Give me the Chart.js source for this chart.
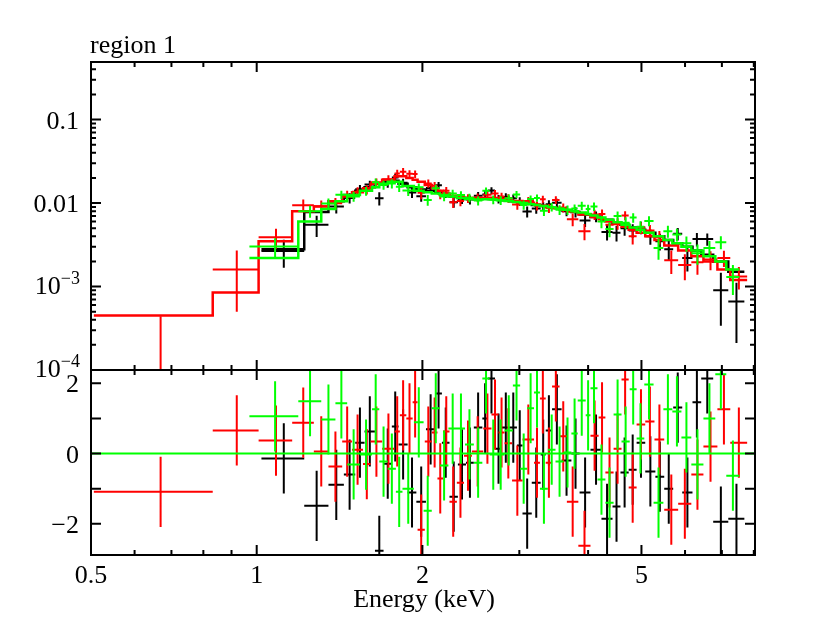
<!DOCTYPE html>
<html>
<head>
<meta charset="utf-8">
<script src="https://cdn.jsdelivr.net/npm/chart.js@4.4.1/dist/chart.umd.min.js"></script>
<style>
  html, body { margin: 0; padding: 0; background: #fff; }
  #wrap { position: relative; width: 830px; height: 617px; }
  #wrap canvas { position: absolute; left: 0; top: 0; }
</style>
</head>
<body>
<div id="wrap">
  <canvas id="specChart" width="830" height="617"></canvas>
  <canvas id="residChart" width="830" height="617"></canvas>
</div>
<script>
// ---- data (energies in keV, flux in counts/s/keV) ----
const blackEdges = [1.02,1.22,1.35,1.44,1.51,1.57,1.64,1.70,1.76,1.81,1.88,1.95,2.03,2.11,2.17,2.24,2.32,2.40,2.48,2.57,2.63,2.71,2.79,2.88,2.97,3.04,3.16,3.28,3.35,3.44,3.58,3.73,3.86,4.04,4.23,4.43,4.58,4.74,4.90,5.08,5.30,5.50,5.71,5.93,6.19,6.42,6.75,7.19,7.69];
const blackFlux = [0.00266,0.00548,0.0091,0.0115,0.0146,0.0167,0.0114,0.0174,0.0202,0.0175,0.0134,0.0121,0.0152,0.0163,0.0130,0.0102,0.0111,0.0110,0.0122,0.0127,0.0141,0.0112,0.0118,0.0114,0.0105,0.0079,0.0086,0.0092,0.0097,0.0101,0.0080,0.0078,0.0062,0.0069,0.0045,0.0044,0.0050,0.0047,0.0051,0.0040,0.0035,0.0028,0.0043,0.0022,0.0037,0.0037,0.0009,0.00066];
const blackErr = [0.00098,0.00156,0.00158,0.00163,0.00182,0.00186,0.00204,0.00216,0.00222,0.00204,0.00186,0.00174,0.00168,0.00162,0.0015,0.00144,0.00138,0.00136,0.00134,0.00136,0.00134,0.00132,0.0013,0.00126,0.00122,0.00119,0.00114,0.0011,0.00108,0.00113,0.00107,0.00109,0.00102,0.00102,0.00095,0.00093,0.00094,0.00087,0.00086,0.00084,0.0008,0.00076,0.00073,0.00069,0.00068,0.00062,0.00056,0.00045];
const blackModel = [0.0028,0.0078,0.0105,0.0125,0.014,0.0155,0.017,0.018,0.0185,0.017,0.0155,0.0145,0.014,0.0135,0.0125,0.012,0.0115,0.0113,0.0112,0.0113,0.0112,0.011,0.0108,0.0105,0.0102,0.0099,0.0095,0.0092,0.009,0.0087,0.0082,0.0078,0.0073,0.0068,0.0063,0.0058,0.0055,0.0051,0.0048,0.0044,0.004,0.0036,0.0033,0.003,0.0027,0.0024,0.002,0.0015];
const blackResid = [-0.14,-1.49,-0.89,-0.6,0.31,0.63,-2.77,-0.29,0.77,0.26,-1.11,-1.37,0.69,1.71,0.31,-1.23,-0.31,-0.26,0.74,1.0,2.14,0.14,0.74,0.74,0.23,-1.71,-0.83,-0.03,0.66,1.26,-0.2,0,-1.11,0.11,-1.86,-1.51,-0.54,-0.46,0.31,-0.51,-0.66,-1.0,1.31,-1.11,1.46,2.14,-1.94,-1.86];

const redEdges = [0.506,0.832,1.008,1.16,1.27,1.35,1.43,1.49,1.56,1.61,1.69,1.78,1.82,1.87,1.92,1.96,2.02,2.08,2.13,2.18,2.24,2.31,2.38,2.46,2.58,2.67,2.75,2.82,2.91,3.04,3.19,3.27,3.35,3.44,3.55,3.66,3.84,4.04,4.18,4.30,4.45,4.60,4.74,4.90,5.08,5.28,5.50,5.83,6.16,6.48,6.87,7.25,7.78];
const redFlux = [0.00001,0.0016,0.00389,0.0094,0.00919,0.00992,0.0125,0.0137,0.0145,0.0177,0.0193,0.0226,0.0238,0.0224,0.0223,0.0133,0.0172,0.0161,0.0128,0.0140,0.0102,0.0106,0.0114,0.0116,0.0126,0.0130,0.0120,0.0114,0.0096,0.0106,0.0093,0.0111,0.0087,0.0109,0.0088,0.0064,0.0046,0.0073,0.0074,0.0055,0.0057,0.0071,0.0040,0.0051,0.0047,0.0039,0.00206,0.00181,0.00196,0.00211,0.0022,0.00132];
const redErr = [0.00043,0.0011,0.00105,0.0016,0.00155,0.00158,0.00156,0.00176,0.0018,0.00204,0.00228,0.00252,0.00252,0.0024,0.00228,0.00216,0.00198,0.0018,0.00168,0.00156,0.00146,0.00142,0.00138,0.00138,0.00139,0.00138,0.00134,0.00132,0.00127,0.00121,0.00115,0.00112,0.00108,0.00113,0.00108,0.00111,0.00102,0.00102,0.00096,0.00096,0.0009,0.00088,0.00082,0.00079,0.00076,0.00072,0.00065,0.00062,0.00058,0.00054,0.00048,0.0004];
const redModel = [0.00045,0.00085,0.0035,0.008,0.0091,0.0105,0.012,0.0135,0.015,0.017,0.019,0.021,0.021,0.02,0.019,0.018,0.0165,0.015,0.014,0.013,0.0122,0.0118,0.0115,0.0115,0.0116,0.0115,0.0112,0.011,0.0106,0.0101,0.0096,0.0093,0.009,0.0087,0.0083,0.0079,0.0073,0.0068,0.0064,0.006,0.0056,0.0052,0.0048,0.0044,0.004,0.0036,0.0031,0.0027,0.0023,0.002,0.0016,0.0012];
const redResid = [-1.09,0.66,0.37,0.88,0.06,-0.37,0.34,0.11,-0.3,0.34,0.14,0.63,1.09,1.0,1.46,-2.17,0.34,0.6,-0.71,0.63,-1.37,-0.83,-0.06,0.06,0.71,1.11,0.6,0.29,-0.77,0.4,-0.26,1.57,-0.26,1.91,0.49,-1.37,-2.63,0.51,1.03,-0.54,0.14,2.11,-0.97,0.83,0.91,0.4,-1.6,-1.43,-0.6,0.2,1.26,0.31];

const greenEdges = [0.97,1.19,1.31,1.39,1.46,1.54,1.62,1.67,1.73,1.79,1.84,1.93,2.01,2.08,2.15,2.23,2.31,2.39,2.48,2.57,2.65,2.73,2.82,2.92,3.01,3.10,3.19,3.27,3.38,3.49,3.61,3.73,3.83,3.96,4.04,4.16,4.30,4.45,4.60,4.76,4.90,5.06,5.26,5.48,5.69,5.91,6.16,6.48,6.81,7.13,7.53];
const greenFlux = [0.00302,0.00797,0.0099,0.0126,0.0120,0.01395,0.0178,0.0165,0.0171,0.0157,0.0141,0.0155,0.0109,0.0150,0.0120,0.0130,0.0125,0.0116,0.0107,0.0140,0.0110,0.0108,0.0114,0.0127,0.0095,0.0112,0.0115,0.0081,0.0090,0.0083,0.0083,0.0086,0.0093,0.0085,0.0091,0.0060,0.0049,0.0070,0.0058,0.0067,0.0052,0.0061,0.0029,0.0046,0.0042,0.0033,0.0025,0.0029,0.0034,0.0013];
const greenErr = [0.00077,0.00132,0.00145,0.00147,0.00163,0.00168,0.00186,0.00204,0.00216,0.00216,0.00192,0.00168,0.00162,0.00156,0.0015,0.00144,0.00138,0.00134,0.00132,0.00133,0.00132,0.0013,0.00127,0.00124,0.0012,0.00116,0.00114,0.0011,0.00107,0.00112,0.00108,0.00104,0.00108,0.00104,0.00107,0.001,0.00101,0.00094,0.00094,0.00087,0.00086,0.00084,0.0008,0.00076,0.00073,0.00069,0.00068,0.00062,0.0006,0.00051];
const greenModel = [0.0022,0.006,0.0085,0.0105,0.0125,0.014,0.0155,0.017,0.018,0.018,0.016,0.014,0.0135,0.013,0.0125,0.012,0.0115,0.0112,0.011,0.0111,0.011,0.0108,0.0106,0.0103,0.01,0.0097,0.0095,0.0092,0.0089,0.0086,0.0083,0.008,0.0077,0.0074,0.0071,0.0067,0.0063,0.0059,0.0055,0.0051,0.0048,0.0044,0.004,0.0036,0.0033,0.003,0.0027,0.0023,0.002,0.0016];
const greenResid = [1.06,1.49,0.97,1.43,-0.31,-0.03,1.26,-0.23,-0.43,-1.09,-1.0,0.89,-1.63,1.29,-0.34,0.71,0.71,0.26,-0.26,2.14,-0.03,-0.03,0.66,1.94,-0.43,1.29,1.74,-1.0,0.11,-0.23,0.03,0.57,1.51,1.09,1.86,-0.74,-1.4,1.11,0.34,1.83,0.43,1.97,-1.4,1.26,1.2,0.46,-0.31,1.0,2.26,-0.63];

// axis ticks
const xMajor = [1, 2, 5];
const xMinor = [0.6, 0.7, 0.8, 0.9, 3, 4, 6, 7, 8];
const xLabels = [[0.5, "0.5"], [1, "1"], [2, "2"], [5, "5"]];
const yDecades = [1e-4, 1e-3, 0.01, 0.1];
const residTicks = [-2, -1, 0, 1, 2];
const residLabels = [[2, "2"], [0, "0"], [-2, "\u22122"]];

const BLACK = "#000000", RED = "#ff0000", GREEN = "#00ff00";
const FONT = '"Liberation Serif", "Times New Roman", serif';

// one polyline per series: horizontal bin bar + vertical error bar, separated by gaps
function crossPoints(edges, vals, errs, floor) {
  const pts = [];
  vals.forEach((v, i) => {
    const lo = edges[i], hi = edges[i + 1], mid = (lo + hi) / 2;
    const e = errs ? errs[i] : 1;
    pts.push({x: lo, y: v}, {x: hi, y: v}, {x: hi, y: null});
    pts.push({x: mid, y: Math.max(v - e, floor)}, {x: mid, y: v + e}, {x: mid, y: null});
  });
  return pts;
}

function stepPoints(edges, model) {
  const pts = model.map((m, i) => ({x: edges[i], y: m}));
  pts.push({x: edges[edges.length - 1], y: model[model.length - 1]});
  return pts;
}

function dataSet(pts, color) {
  return { data: pts, borderColor: color, borderWidth: 2, pointRadius: 0, spanGaps: false, tension: 0 };
}
function modelSet(pts, color) {
  // 'before': hold the previous bin's value until the next edge, then step
  return { data: pts, borderColor: color, borderWidth: 2.5, pointRadius: 0, stepped: 'before', tension: 0 };
}

function frame(chart, yTicks) {
  const {ctx, chartArea: a, scales} = chart;
  ctx.save();
  ctx.strokeStyle = BLACK;
  ctx.lineWidth = 2;
  ctx.strokeRect(a.left, a.top, a.right - a.left, a.bottom - a.top);
  ctx.beginPath();
  const xt = (v, len) => {
    const px = scales.x.getPixelForValue(v);
    ctx.moveTo(px, a.top); ctx.lineTo(px, a.top + len);
    ctx.moveTo(px, a.bottom); ctx.lineTo(px, a.bottom - len);
  };
  xMajor.forEach(v => xt(v, 10));
  xMinor.forEach(v => xt(v, 5));
  yTicks.forEach(([v, len]) => {
    const py = scales.y.getPixelForValue(v);
    ctx.moveTo(a.left, py); ctx.lineTo(a.left + len, py);
    ctx.moveTo(a.right, py); ctx.lineTo(a.right - len, py);
  });
  ctx.stroke();
  ctx.restore();
}

function text(ctx, str, x, y, size, align) {
  ctx.font = size + "px " + FONT;
  ctx.textAlign = align;
  ctx.textBaseline = "alphabetic";
  ctx.fillStyle = BLACK;
  ctx.fillText(str, x, y);
}

const specTicks = [];
yDecades.forEach(d => {
  specTicks.push([d, 10]);
  for (let k = 2; k <= 9; k++) if (d * k < 0.49) specTicks.push([d * k, 5]);
});

const specAxes = {
  id: "specAxes",
  afterDraw(chart) {
    frame(chart, specTicks);
    const ctx = chart.ctx, ys = chart.scales.y;
    ctx.save();
    text(ctx, "region 1", 90, 53, 26, "left");
    text(ctx, "0.1", 79, ys.getPixelForValue(0.1) + 9, 26, "right");
    text(ctx, "0.01", 79, ys.getPixelForValue(0.01) + 9, 26, "right");
    [[1e-3, "\u22123"], [1e-4, "\u22124"]].forEach(([v, sup]) => {
      const py = ys.getPixelForValue(v);
      ctx.font = "18px " + FONT;
      const sw = ctx.measureText(sup).width;
      text(ctx, sup, 80 - sw, py - 3, 18, "left");
      text(ctx, "10", 80 - sw, py + 7, 26, "right");
    });
    ctx.restore();
  }
};

const residAxes = {
  id: "residAxes",
  afterDraw(chart) {
    frame(chart, residTicks.map(v => [v, 10]));
    const ctx = chart.ctx, xs = chart.scales.x, ys = chart.scales.y;
    ctx.save();
    residLabels.forEach(([v, s]) => text(ctx, s, 79, ys.getPixelForValue(v) + 9, 26, "right"));
    xLabels.forEach(([v, s]) => text(ctx, s, xs.getPixelForValue(v), 583, 26, "center"));
    text(ctx, "Energy (keV)", 424, 607, 26, "center");
    ctx.restore();
  }
};

const common = {
  responsive: false,
  animation: false,
  events: [],
  plugins: { legend: { display: false }, tooltip: { enabled: false }, title: { display: false } }
};

new Chart(document.getElementById("specChart"), {
  type: "line",
  data: {
    datasets: [
      modelSet(stepPoints(greenEdges, greenModel), GREEN),
      dataSet(crossPoints(greenEdges, greenFlux, greenErr, 1e-7), GREEN),
      modelSet(stepPoints(redEdges, redModel), RED),
      dataSet(crossPoints(redEdges, redFlux, redErr, 1e-7), RED),
      modelSet(stepPoints(blackEdges, blackModel), BLACK),
      dataSet(crossPoints(blackEdges, blackFlux, blackErr, 1e-7), BLACK)
    ]
  },
  options: Object.assign({}, common, {
    layout: { padding: { left: 91, right: 75, top: 62, bottom: 247 } },
    scales: {
      x: { type: "logarithmic", min: 0.5, max: 8.04, bounds: "data", display: false },
      y: { type: "logarithmic", min: 1e-4, max: 0.49, bounds: "data", display: false }
    }
  }),
  plugins: [specAxes]
});

new Chart(document.getElementById("residChart"), {
  type: "line",
  data: {
    datasets: [
      dataSet([{x: 0.5, y: 0}, {x: 8.04, y: 0}], GREEN),
      dataSet(crossPoints(greenEdges, greenResid, null, -Infinity), GREEN),
      dataSet(crossPoints(redEdges, redResid, null, -Infinity), RED),
      dataSet(crossPoints(blackEdges, blackResid, null, -Infinity), BLACK)
    ]
  },
  options: Object.assign({}, common, {
    layout: { padding: { left: 91, right: 75, top: 370, bottom: 62 } },
    scales: {
      x: { type: "logarithmic", min: 0.5, max: 8.04, bounds: "data", display: false },
      y: { type: "linear", min: -2.89, max: 2.38, bounds: "data", display: false }
    }
  }),
  plugins: [residAxes]
});
</script>
</body>
</html>
